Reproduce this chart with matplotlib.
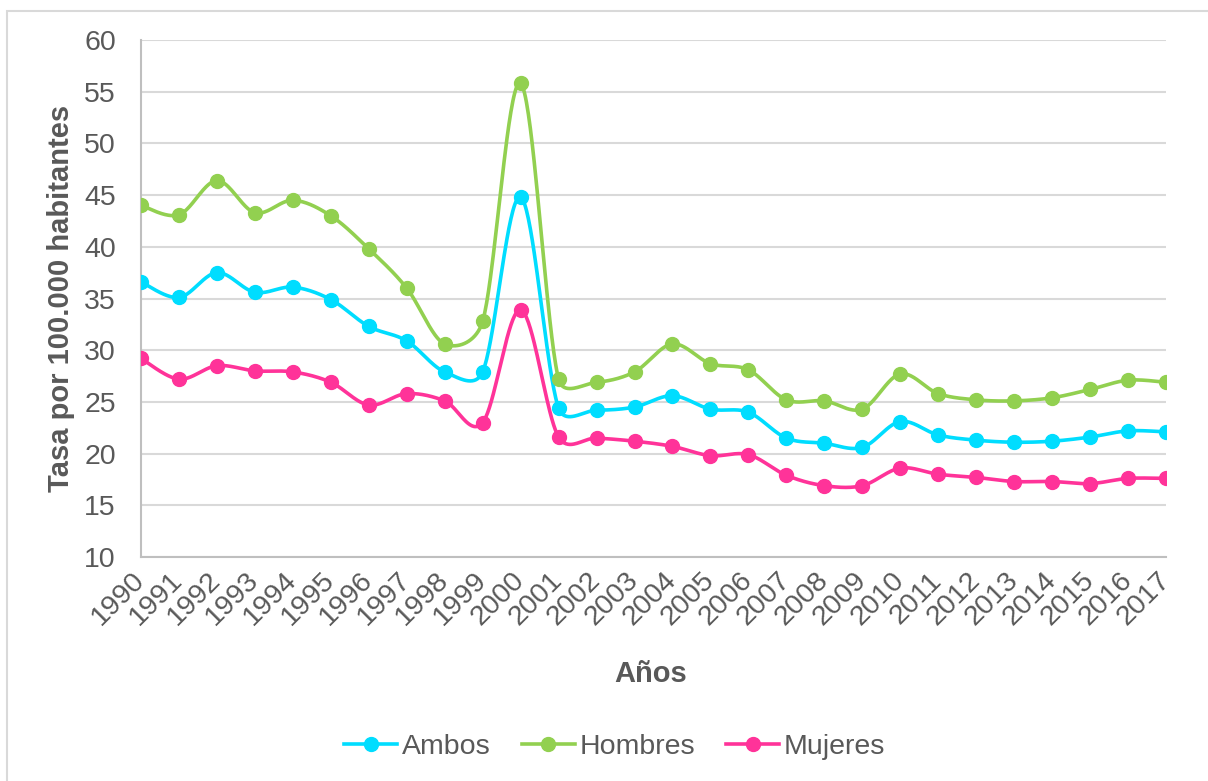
import numpy as np
import matplotlib
matplotlib.use("Agg")
import matplotlib.pyplot as plt
import matplotlib.transforms as mtransforms
from matplotlib.lines import Line2D
from matplotlib.patches import Rectangle

plt.rcParams['font.family'] = ['Liberation Sans', 'DejaVu Sans']

years = list(range(1990, 2018))
year_labels = [str(y) for y in years]

ambos = [36.6, 35.1, 37.5, 35.6, 36.1, 34.9, 32.3, 30.9, 27.9, 27.9,
         44.8, 24.4, 24.2, 24.5, 25.6, 24.3, 24.0, 21.5, 21.0, 20.6,
         23.1, 21.8, 21.3, 21.1, 21.2, 21.6, 22.2, 22.1]
hombres = [44.0, 43.1, 46.4, 43.3, 44.5, 43.0, 39.8, 36.0, 30.6, 32.8,
           55.8, 27.2, 26.9, 27.9, 30.6, 28.7, 28.1, 25.2, 25.1, 24.3,
           27.7, 25.8, 25.2, 25.1, 25.4, 26.2, 27.1, 26.9]
mujeres = [29.2, 27.2, 28.5, 28.0, 27.9, 26.9, 24.7, 25.8, 25.1, 23.0,
           33.9, 21.6, 21.5, 21.2, 20.7, 19.8, 19.9, 17.9, 16.9, 16.9,
           18.6, 18.0, 17.7, 17.3, 17.3, 17.1, 17.6, 17.6]

series_names = ['Ambos', 'Hombres', 'Mujeres']
series_values = [ambos, hombres, mujeres]
series_colors = ['#00DDFF', '#92D050', '#FF3399']

TEXT = '#595959'
GRID = '#D9D9D9'


def smooth_curve(ax, x, y, steps=40):
    """Bezier smoothing through every point, computed in display space.

    Control arms follow the neighbour chord (1/6 of it) but never exceed
    half of the current segment, which keeps sharp peaks from overshooting.
    """
    pts = ax.transData.transform(np.column_stack([x, y]).astype(float))
    p = np.vstack([pts[:1], pts, pts[-1:]])
    t = np.linspace(0, 1, steps)[:, None]
    out = []
    for i in range(1, len(p) - 2):
        p0, p1, p2, p3 = p[i - 1], p[i], p[i + 1], p[i + 2]
        d12 = np.hypot(*(p2 - p1))
        d02 = np.hypot(*(p2 - p0))
        d13 = np.hypot(*(p3 - p1))
        f0 = min(1 / 6, d12 / (2 * d02)) if d02 > 0 else 0
        f1 = min(1 / 6, d12 / (2 * d13)) if d13 > 0 else 0
        c1 = p1 + (p2 - p0) * f0
        c2 = p2 - (p3 - p1) * f1
        seg = ((1 - t) ** 3) * p1 + 3 * ((1 - t) ** 2) * t * c1 \
            + 3 * (1 - t) * t ** 2 * c2 + t ** 3 * p2
        out.append(seg)
    curve = ax.transData.inverted().transform(np.vstack(out))
    return curve[:, 0], curve[:, 1]


fig = plt.figure(figsize=(12.08, 7.81), dpi=100)
ax = fig.add_axes([141 / 1208, 1 - 557 / 781, (1166 - 141) / 1208, (557 - 40) / 781])
ax.set_xlim(1990, 2017)
ax.set_ylim(10, 60)

# outer chart frame
fig.patches.append(Rectangle((7 / 1208, -0.1), 1.2, 0.1 + (781 - 11) / 781,
                             transform=fig.transFigure, fill=False,
                             edgecolor=GRID, linewidth=1.5, zorder=0))

handles = []
for name, vals, col in zip(series_names, series_values, series_colors):
    sx, sy = smooth_curve(ax, years, vals)
    ax.plot(sx, sy, color=col, linewidth=2.6, solid_capstyle='round', zorder=3)
    ax.plot(years, vals, linestyle='none', marker='o', markersize=10,
            color=col, zorder=4)
    handles.append(Line2D([], [], color=col, linewidth=2.6, marker='o',
                          markersize=10, label=name))

ax.set_yticks(range(10, 61, 5))
ax.set_xticks(years)
ax.set_xticklabels(year_labels, rotation=45, ha='right', va='center',
                   rotation_mode='anchor')
shift = mtransforms.ScaledTranslation(5 / 100, -3 / 100, fig.dpi_scale_trans)
for lbl in ax.get_xticklabels():
    lbl.set_transform(lbl.get_transform() + shift)

ax.grid(axis='y', color=GRID, linewidth=1.5)
ax.set_axisbelow(True)
for s in ['top', 'right']:
    ax.spines[s].set_visible(False)
for s in ['left', 'bottom']:
    ax.spines[s].set_color('#BFBFBF')
    ax.spines[s].set_linewidth(1.5)

ax.tick_params(axis='y', length=0, pad=18, labelsize=20.5, labelcolor=TEXT)
ax.tick_params(axis='x', length=0, pad=14, labelsize=20.5, labelcolor=TEXT)

ax.set_ylabel('Tasa por 100.000 habitantes', fontsize=21, fontweight='bold',
              color=TEXT)
ax.yaxis.set_label_coords(-0.064, 0.5)
ax.set_xlabel('Años', fontsize=21, fontweight='bold', color=TEXT)
ax.xaxis.set_label_coords(0.497, -0.199)

leg = fig.legend(handles=handles, loc='center', bbox_to_anchor=(0.509, 0.044),
                 ncol=3, frameon=False, fontsize=20.5, handlelength=1.85,
                 handletextpad=0.17, columnspacing=1.1)
for t in leg.get_texts():
    t.set_color(TEXT)

fig.savefig('out.png', dpi=100)
